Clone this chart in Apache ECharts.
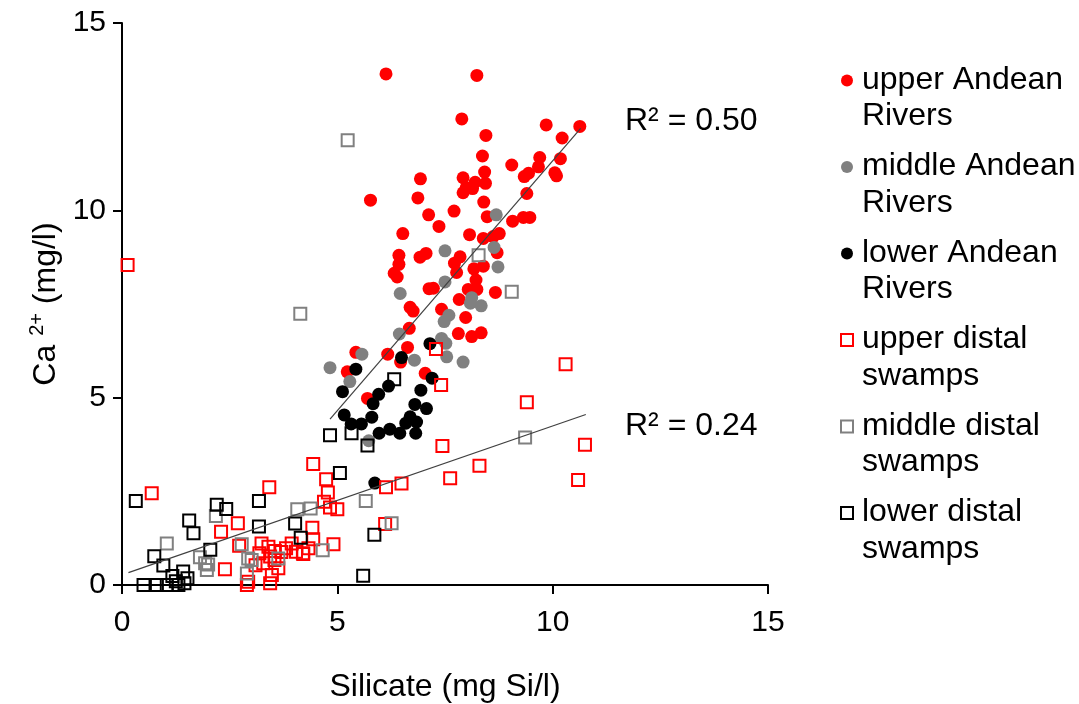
<!DOCTYPE html>
<html><head><meta charset="utf-8">
<script src="https://cdn.jsdelivr.net/npm/echarts@6/dist/echarts.min.js"></script>
<style>html,body{margin:0;padding:0;background:#fff}#c{width:1079px;height:704px}</style>
</head><body><div id="c"></div>
<script>
const seriesNames = ['upper Andean Rivers','middle Andean Rivers','lower Andean Rivers','upper distal swamps','middle distal swamps','lower distal swamps'];
const legendLines = [['upper Andean','Rivers'],['middle Andean','Rivers'],['lower Andean','Rivers'],['upper distal','swamps'],['middle distal','swamps'],['lower distal','swamps']];

const upperAndean = [[6.13,13.64],[8.24,13.60],[7.89,12.44],[8.45,12.00],[9.85,12.28],[10.63,12.24],[10.22,11.93],[8.37,11.45],[9.70,11.41],[10.18,11.38],[9.05,11.21],[8.42,11.02],[9.67,11.16],[9.44,10.99],[9.34,10.90],[10.05,11.00],[10.09,10.92],[6.93,10.84],[7.92,10.87],[8.20,10.75],[8.44,10.72],[7.99,10.60],[7.92,10.47],[8.14,10.58],[5.77,10.27],[6.87,10.33],[9.40,10.45],[8.40,10.22],[7.12,9.88],[7.71,9.98],[7.36,9.57],[8.48,9.83],[9.07,9.71],[9.32,9.81],[9.47,9.81],[6.52,9.38],[8.07,9.35],[8.39,9.25],[8.76,9.38],[8.62,9.30],[6.43,8.80],[6.92,8.75],[7.06,8.85],[6.43,8.56],[7.85,8.76],[7.72,8.59],[7.77,8.34],[8.71,8.87],[8.17,8.44],[8.39,8.51],[6.32,8.32],[6.39,8.22],[8.22,8.14],[8.04,7.89],[8.24,7.89],[7.13,7.91],[7.23,7.92],[8.67,7.81],[7.83,7.62],[6.69,7.41],[6.76,7.31],[7.42,7.36],[7.98,7.14],[6.67,6.85],[7.81,6.71],[8.12,6.63],[8.34,6.73],[6.63,6.34],[6.17,6.16],[5.43,6.21],[6.47,5.95],[7.04,5.65],[5.23,5.69],[5.70,4.98]];
const middleAndean = [[8.69,9.88],[7.50,8.92],[8.64,9.01],[8.73,8.49],[7.50,8.09],[6.46,7.78],[8.12,7.67],[8.09,7.52],[8.34,7.45],[7.59,7.20],[7.48,7.03],[6.44,6.70],[7.42,6.58],[7.52,6.45],[5.57,6.16],[6.79,6.00],[7.54,6.09],[7.92,5.95],[4.83,5.80],[5.29,5.43],[5.73,3.85]];
const lowerAndean = [[7.15,6.44],[6.49,6.07],[5.43,5.76],[7.20,5.52],[5.12,5.16],[5.96,5.09],[6.19,5.31],[6.94,5.20],[5.83,4.84],[6.80,4.82],[7.07,4.71],[5.16,4.54],[5.80,4.48],[5.32,4.30],[5.56,4.30],[6.69,4.49],[6.84,4.35],[6.59,4.32],[5.97,4.05],[6.22,4.16],[6.45,4.05],[6.82,4.05],[5.87,2.72]];
const upperSwamps = [[0.13,8.54],[7.29,6.30],[7.41,5.34],[10.30,5.89],[9.40,4.88],[7.44,3.71],[8.30,3.18],[7.62,2.85],[10.75,3.74],[10.59,2.80],[6.13,2.61],[6.49,2.71],[4.44,3.23],[4.74,2.82],[4.78,2.47],[4.69,2.22],[4.83,2.07],[5.00,2.02],[6.11,1.63],[4.42,1.53],[4.44,1.22],[4.91,1.09],[4.21,0.83],[0.69,2.45],[3.42,2.61],[2.69,1.65],[2.30,1.42],[3.19,0.85],[3.24,1.11],[3.40,1.02],[3.55,0.91],[3.81,0.98],[3.94,1.11],[4.04,0.89],[4.20,0.85],[4.33,0.98],[3.70,0.88],[3.44,0.76],[3.10,0.53],[3.28,0.58],[3.54,0.67],[3.63,0.45],[2.72,1.05],[2.39,0.42],[2.93,0.09],[2.90,0.00],[3.44,0.05],[3.48,0.27]];
const middleSwamps = [[5.24,11.87],[4.14,7.24],[8.28,8.80],[9.05,7.83],[9.36,3.94],[5.66,2.24],[6.26,1.65],[4.38,2.04],[4.07,2.02],[4.66,0.93],[1.04,1.11],[2.18,1.84],[1.81,0.74],[1.97,0.40],[1.93,0.58],[2.78,1.09],[2.93,0.71],[2.90,0.31],[3.63,0.71],[3.01,0.67],[2.00,0.55]];
const lowerSwamps = [[4.83,4.00],[5.33,4.05],[5.70,3.72],[6.32,5.49],[5.06,2.99],[5.86,1.34],[5.60,0.25],[4.15,1.26],[4.02,1.64],[0.32,2.24],[1.56,1.72],[1.66,1.38],[2.20,2.14],[2.42,2.03],[3.18,2.24],[3.18,1.56],[2.05,0.94],[0.75,0.77],[0.96,0.52],[1.42,0.36],[1.52,0.18],[1.17,0.24],[0.50,0.00],[0.81,0.00],[1.04,0.00],[1.31,0.00],[1.25,0.10],[1.45,0.05]];

const trendAndean = [[4.83,4.43],[10.65,12.19]];
const trendSwamps = [[0.15,0.33],[10.77,4.55]];
const r2Labels = ['R\u00B2 = 0.50','R\u00B2 = 0.24'];
const xAxisTitle = 'Silicate (mg Si/l)';

const FONT = '"Liberation Sans", Arial, sans-serif';
const chart = echarts.init(document.getElementById('c'), null, {renderer:'canvas'});

function circleSeries(name, data, color){
  return {type:'scatter', name, data, symbol:'circle', symbolSize:13, clip:false,
    itemStyle:{color, opacity:1}, emphasis:{disabled:true}};
}
function squareSeries(name, data, color){
  return {type:'scatter', name, data, symbol:'rect', symbolSize:12, clip:false,
    itemStyle:{color:'rgba(0,0,0,0)', borderColor:color, borderWidth:2, opacity:1}, emphasis:{disabled:true}};
}
function trendSeries(data){
  return {type:'line', data, symbol:'none', silent:true, clip:false,
    lineStyle:{color:'#404040', width:1.2}, z:5};
}

const option = {
  animation:false,
  backgroundColor:'#fff',
  textStyle:{fontFamily:FONT},
  grid:{left:122, right:311, top:23, bottom:119, containLabel:false, outerBoundsMode:'none'},
  xAxis:{type:'value', min:0, max:15, interval:5,
    name:xAxisTitle, nameLocation:'middle', nameGap:86,
    nameTextStyle:{fontSize:32, color:'#000', fontFamily:FONT},
    axisLine:{show:true, onZero:false, lineStyle:{color:'#000', width:2}},
    axisTick:{show:true, inside:false, length:9, lineStyle:{color:'#000', width:2}},
    axisLabel:{fontSize:30, color:'#000', margin:23, fontFamily:FONT},
    splitLine:{show:false}},
  yAxis:{type:'value', min:0, max:15, interval:5,
    name:'{a|Ca }{b|2+}{a| (mg/l)}', nameLocation:'middle', nameGap:56, nameRotate:90,
    nameTextStyle:{color:'#000', fontFamily:FONT, rich:{a:{fontSize:32, color:'#000', fontFamily:FONT, lineHeight:36}, b:{fontSize:20, color:'#000', fontFamily:FONT, verticalAlign:'top', lineHeight:36}}},
    axisLine:{show:true, onZero:false, lineStyle:{color:'#000', width:2}},
    axisTick:{show:true, inside:false, length:9, lineStyle:{color:'#000', width:2}},
    axisLabel:{fontSize:30, color:'#000', margin:16, fontFamily:FONT},
    splitLine:{show:false}},
  legend:{orient:'vertical', left:835, top:59, itemWidth:12, itemHeight:12, itemGap:18,
    selectedMode:false,
    data:seriesNames,
    formatter:function(n){const l=legendLines[seriesNames.indexOf(n)]; return '{a|'+l[0]+'}\n{b|'+l[1]+'}';},
    textStyle:{fontSize:32, color:'#000', fontFamily:FONT,
      rich:{a:{fontSize:32, color:'#000', fontFamily:FONT, lineHeight:72, padding:[0,0,0,4]},
            b:{fontSize:32, color:'#000', fontFamily:FONT, lineHeight:1, padding:[0,0,0,4]}}}},
  graphic:[
    {type:'text', left:625, top:105, style:{text:r2Labels[0], fill:'#000', font:'32px '+FONT}},
    {type:'text', left:625, top:410, style:{text:r2Labels[1], fill:'#000', font:'32px '+FONT}}
  ],
  series:[
    circleSeries(seriesNames[0], upperAndean, '#ff0000'),
    circleSeries(seriesNames[1], middleAndean, '#808080'),
    circleSeries(seriesNames[2], lowerAndean, '#000000'),
    squareSeries(seriesNames[3], upperSwamps, '#ff0000'),
    squareSeries(seriesNames[4], middleSwamps, '#808080'),
    squareSeries(seriesNames[5], lowerSwamps, '#000000'),
    trendSeries(trendAndean),
    trendSeries(trendSwamps)
  ]
};
chart.setOption(option);
</script></body></html>
